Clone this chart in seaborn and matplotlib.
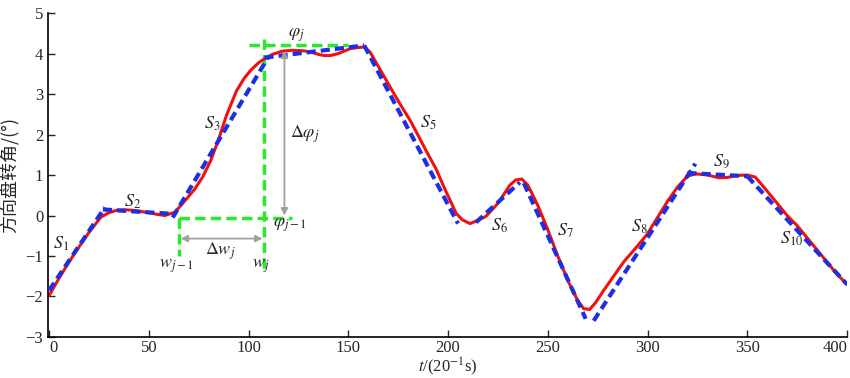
import matplotlib

matplotlib.use("Agg")

import matplotlib.pyplot as plt
import numpy as np
import pandas as pd
import seaborn as sns

# measured steering angle (red)
t_meas = [0, 5, 10, 14, 20, 26, 30, 34, 38, 42, 46, 50, 54, 58, 63, 67, 73, 77, 81, 85,
          89, 94, 98, 101, 105, 108, 112, 117, 122, 127, 131, 135, 138, 141, 145, 151,
          155, 158, 161, 166, 171, 176, 181, 185, 189, 194, 198, 201, 204, 207, 211,
          215, 219, 225, 231, 234, 237, 240, 245, 250, 255, 260, 265, 268, 271, 274,
          278, 283, 288, 295, 300, 305, 310, 315, 320, 324, 330, 336, 340, 345, 350,
          354, 360, 365, 370, 375, 380, 385, 390, 395, 400]
angle_meas = [-1.98, -1.55, -1.15, -0.85, -0.42, -0.04, 0.07, 0.13, 0.14, 0.13, 0.1,
              0.07, 0.03, 0.0, 0.08, 0.3, 0.65, 0.95, 1.35, 1.88, 2.48, 3.08, 3.4, 3.58,
              3.77, 3.87, 3.98, 4.06, 4.08, 4.07, 4.04, 3.98, 3.95, 3.95, 4.0, 4.12, 4.15,
              4.16, 4.03, 3.6, 3.17, 2.75, 2.35, 1.98, 1.6, 1.15, 0.7, 0.38, 0.06, -0.1,
              -0.2, -0.12, -0.02, 0.3, 0.75, 0.88, 0.9, 0.75, 0.25, -0.35, -1.0, -1.6,
              -2.1, -2.3, -2.32, -2.15, -1.85, -1.5, -1.15, -0.75, -0.45, -0.05, 0.35,
              0.7, 0.97, 1.03, 1.0, 0.93, 0.94, 0.99, 1.0, 0.95, 0.6, 0.3, 0.0, -0.25,
              -0.55, -0.85, -1.15, -1.45, -1.7]

# piecewise linear segments S1..S10 (blue)
seg_t0 = [0, 27, 62, 108, 158, 214, 238, 273, 320, 350]
seg_t1 = [28, 62, 110, 158, 205, 236, 269, 324, 350, 400]
seg_a0 = [-1.85, 0.15, -0.05, 3.9, 4.2, -0.17, 0.8, -2.6, 1.05, 0.97]
seg_a1 = [0.2, 0.04, 3.92, 4.2, -0.2, 0.82, -2.55, 1.28, 0.97, -1.7]
seg_names = ["$S_{%d}$" % (i + 1) for i in range(10)]
label_t = [6, 42, 82, 0, 190, 226, 259, 296, 337, 372]
label_a = [-0.7, 0.35, 2.27, 0, 2.3, -0.25, -0.37, -0.27, 1.35, -0.58]

# green guide lines (x0, x1, y0, y1)
guide_x0 = [100, 108, 65, 65]
guide_x1 = [150, 108, 122, 65]
guide_y0 = [4.2, 4.37, -0.05, -0.05]
guide_y1 = [4.2, -1.36, -0.05, -0.99]

sns.set_theme(style="ticks")
plt.rcParams["font.family"] = ["Liberation Serif", "Noto Sans CJK SC"]
plt.rcParams["mathtext.fontset"] = "stix"

fig = plt.figure(figsize=(8.5, 3.78), dpi=100)
ax = fig.add_axes([0.0565, 0.1085, 0.94, 0.857])

for gx0, gx1, gy0, gy1 in zip(guide_x0, guide_x1, guide_y0, guide_y1):
    ax.plot([gx0, gx1], [gy0, gy1], color="#2ee62e", lw=2.5, ls=(0, (3, 1.5)), zorder=1)

sns.lineplot(x=t_meas, y=angle_meas, color="#f01010", lw=2.2, ax=ax, zorder=2)

segs = pd.DataFrame({
    "t": seg_t0 + seg_t1,
    "a": seg_a0 + seg_a1,
    "seg": list(range(10)) * 2,
})
for s, d in segs.groupby("seg"):
    sns.lineplot(data=d, x="t", y="a", color="#1f2fe0", lw=3, ax=ax,
                 linestyle=(0, (2.2, 1.2)), zorder=3)

arrow = dict(arrowstyle="<|-|>", color="#a0a0a0", lw=1.3, mutation_scale=10,
             shrinkA=0, shrinkB=0)
ax.annotate("", xy=(118, 4.07), xytext=(118, 0.0), arrowprops=arrow)
ax.annotate("", xy=(66, -0.57), xytext=(107, -0.57), arrowprops=arrow)

fs = 13
for name, lt, la in zip(seg_names, label_t, label_a):
    if name == "$S_{4}$":
        continue
    ax.text(lt, la, name, fontsize=fs, ha="center", va="center")
ax.text(124, 4.45, r"$\varphi_j$", fontsize=fs, ha="center", va="center")
ax.text(121, -0.25, r"$\varphi_{j-1}$", fontsize=fs, ha="center", va="center")
ax.text(128, 2.0, r"$\Delta\varphi_j$", fontsize=fs, ha="center", va="center")
ax.text(86, -0.87, r"$\Delta w_j$", fontsize=fs, ha="center", va="center")
ax.text(64, -1.25, r"$w_{j-1}$", fontsize=fs, ha="center", va="center")
ax.text(106, -1.25, r"$w_j$", fontsize=fs, ha="center", va="center")

ax.set_xlim(-0.5, 400)
ax.set_ylim(-3, 5)
ax.set_xticks(np.arange(0, 401, 50))
ax.set_yticks(np.arange(-3, 6, 1))
ax.tick_params(direction="in", length=5, labelsize=12, width=1)
ax.tick_params(axis="x", pad=2)
ax.get_xticklabels()[-1].set_horizontalalignment("right")
ax.get_xticklabels()[0].set_horizontalalignment("left")
sns.despine(ax=ax)
for sp in ["left", "bottom"]:
    ax.spines[sp].set_linewidth(1.2)
    ax.spines[sp].set_color("black")
ax.set_xlabel(r"$t$/(20$^{-1}$s)", fontsize=12, labelpad=0)
ax.set_ylabel("方向盘转角/(°)", fontsize=13, family=["Noto Sans CJK SC", "DejaVu Sans"],
              labelpad=4)

fig.savefig("out.png", dpi=100)
